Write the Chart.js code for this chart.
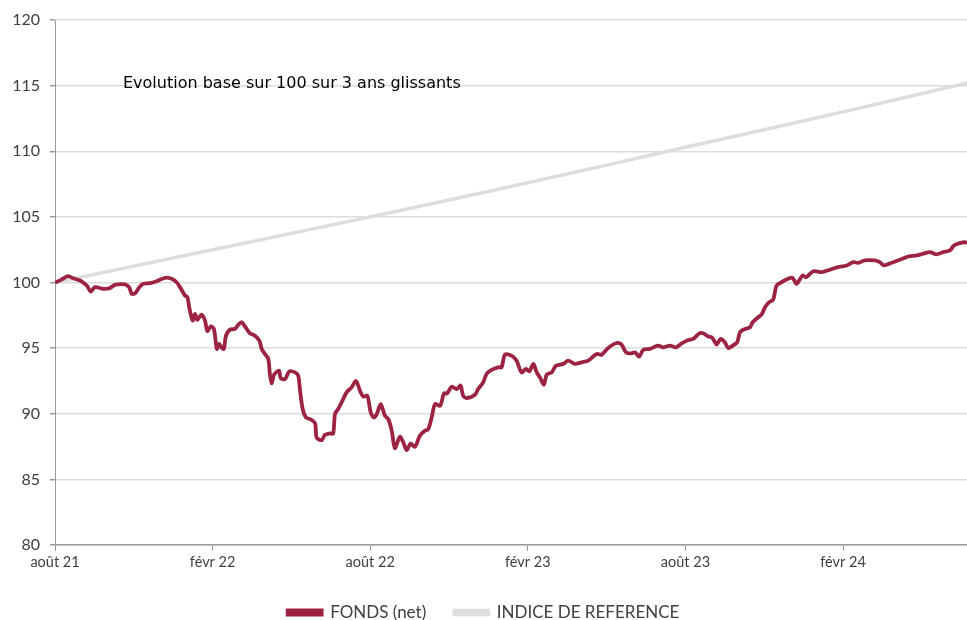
<!DOCTYPE html>
<html>
<head>
<meta charset="utf-8">
<script src="https://cdn.jsdelivr.net/npm/chart.js@4.4.1/dist/chart.umd.min.js"></script>
<style>
  html, body { margin: 0; padding: 0; background: #fff; }
  #wrap { width: 967px; height: 620px; position: relative; }
</style>
</head>
<body>
<div id="wrap"><canvas id="perf_chart"></canvas></div>
<script>
// mois écoulés depuis août 21
var fundMonths = [0, 0.23, 0.49, 0.72, 0.95, 1.21, 1.36, 1.52, 1.84, 2.09, 2.28, 2.66, 2.82, 2.92, 3.05, 3.21, 3.36, 3.62, 3.87, 4.19,
    4.44, 4.63, 4.76, 4.95, 5.04, 5.11, 5.24, 5.33, 5.42, 5.58, 5.71, 5.80, 5.93, 6.05, 6.16, 6.25, 6.35, 6.43, 6.51, 6.66,
    6.85, 6.98, 7.11, 7.23, 7.42, 7.61, 7.78, 7.87, 7.99, 8.12, 8.18, 8.25, 8.34, 8.53, 8.59, 8.76, 8.92, 9.14, 9.26, 9.33,
    9.43, 9.55, 9.71, 9.90, 9.96, 10.15, 10.28, 10.47, 10.59, 10.66, 10.78, 10.91, 11.10, 11.29, 11.46, 11.61, 11.74, 11.89, 12.02, 12.14,
    12.25, 12.40, 12.56, 12.69, 12.82, 12.94, 13.13, 13.26, 13.39, 13.54, 13.70, 13.89, 14.08, 14.21, 14.34, 14.47, 14.66, 14.81, 14.93, 15.10,
    15.29, 15.44, 15.54, 15.69, 15.99, 16.11, 16.30, 16.43, 16.62, 16.87, 17.00, 17.13, 17.38, 17.57, 17.76, 17.93, 18.06, 18.21, 18.34, 18.46,
    18.61, 18.72, 18.91, 19.07, 19.35, 19.54, 19.79, 20.05, 20.30, 20.62, 20.81, 21.06, 21.38, 21.57, 21.74, 21.95, 22.08, 22.24, 22.39, 22.65,
    22.96, 23.15, 23.41, 23.64, 23.86, 24.11, 24.30, 24.53, 24.68, 24.87, 25.00, 25.09, 25.19, 25.34, 25.50, 25.63, 25.80, 25.97, 26.08, 26.27,
    26.46, 26.56, 26.77, 26.90, 27.03, 27.19, 27.34, 27.47, 27.66, 27.91, 28.08, 28.23, 28.46, 28.59, 28.87, 29.19, 29.50, 29.82, 30.14, 30.39,
    30.58, 30.83, 31.21, 31.40, 31.56, 31.85, 32.17, 32.48, 32.80, 33.05, 33.31, 33.56, 33.81, 34.07, 34.22, 34.45, 34.64, 34.72];

var fundValues = [100.0, 100.2, 100.48, 100.3, 100.15, 99.77, 99.31, 99.64, 99.52, 99.57, 99.82, 99.85, 99.64, 99.14, 99.18, 99.64, 99.9, 99.95, 100.1, 100.36,
    100.28, 100.02, 99.64, 99.0, 98.88, 98.1, 97.1, 97.6, 97.15, 97.55, 97.1, 96.3, 96.66, 96.46, 94.94, 95.32, 95.01, 94.94, 95.95, 96.41,
    96.46, 96.79, 96.97, 96.66, 96.13, 95.95, 95.57, 94.94, 94.56, 94.18, 93.03, 92.31, 92.98, 93.28, 92.72, 92.65, 93.23, 93.15, 92.9, 91.76,
    90.36, 89.72, 89.59, 89.29, 88.19, 87.99, 88.4, 88.5, 88.5, 89.98, 90.36, 90.86, 91.63, 92.01, 92.5, 91.76, 91.3, 91.37, 90.1, 89.72,
    89.98, 90.74, 89.85, 89.59, 88.7, 87.38, 88.24, 87.81, 87.23, 87.73, 87.48, 88.32, 88.7, 88.83, 89.72, 90.74, 90.61, 91.55, 91.55, 92.06,
    91.88, 92.14, 91.37, 91.2, 91.45, 91.88, 92.39, 93.03, 93.34, 93.54, 93.54, 94.5, 94.43, 94.05, 93.15, 93.41, 93.23, 93.8, 93.15, 92.77,
    92.21, 92.98, 93.15, 93.66, 93.8, 94.05, 93.8, 93.92, 94.05, 94.56, 94.5, 95.01, 95.39, 95.27, 94.68, 94.6, 94.68, 94.35, 94.86, 94.94,
    95.19, 95.06, 95.19, 95.06, 95.37, 95.62, 95.7, 96.13, 96.13, 95.88, 95.83, 95.57, 95.27, 95.7, 95.45, 95.01, 95.19, 95.45, 96.21, 96.46,
    96.59, 96.97, 97.35, 97.56, 98.12, 98.5, 98.68, 99.77, 100.02, 100.28, 100.36, 99.9, 100.53, 100.4, 100.86, 100.79, 100.97, 101.17, 101.3, 101.55,
    101.5, 101.68, 101.68, 101.55, 101.3, 101.5, 101.73, 101.98, 102.06, 102.19, 102.31, 102.14, 102.31, 102.44, 102.82, 103.0, 103.08, 102.98];

var indexMonths = [0, 6, 12, 18, 24, 30, 34.72];
var indexValues = [100, 102.5, 105.0, 107.6, 110.3, 113.0, 115.2];

var tickMonths = [0, 6, 12, 18, 24, 30];
var tickLabels = ['août 21', 'févr 22', 'août 22', 'févr 23', 'août 23', 'févr 24'];

var seriesNames = ['FONDS (net)', 'INDICE DE REFERENCE'];
var seriesColors = ['#9c2442', '#dddddd'];

var chartTitle = 'Evolution base sur 100 sur 3 ans glissants';

function toPoints(xs, ys) {
    return xs.map(function (x, i) { return { x: x, y: ys[i] } })
}

// titre posé dans la zone du graphique
var titlePlugin = {
    id: 'innerTitle',
    afterDatasetsDraw: function (chart) {
        var ctx = chart.ctx, area = chart.chartArea;
        ctx.save();
        ctx.font = '16px "DejaVu Sans"';
        ctx.fillStyle = '#000';
        ctx.textBaseline = 'middle';
        ctx.fillText(chartTitle, area.left + 68, area.top + 64);
        ctx.restore();
    }
};

new Chart(document.getElementById('perf_chart').getContext('2d'), {
    type: 'line',
    data: {
        datasets: [
            {
                label: seriesNames[0],
                data: toPoints(fundMonths, fundValues),
                borderColor: seriesColors[0],
                backgroundColor: seriesColors[0],
                borderWidth: 3.8,
                pointRadius: 0,
                tension: 0.3
            },
            {
                label: seriesNames[1],
                data: toPoints(indexMonths, indexValues),
                borderColor: seriesColors[1],
                backgroundColor: seriesColors[1],
                borderWidth: 3.5,
                pointRadius: 0,
                tension: 0.4
            }
        ]
    },
    options: {
        responsive: true,
        maintainAspectRatio: false,
        animation: false,
        layout: { padding: { top: 20, right: 0, left: 0, bottom: -11 } },
        scales: {
            x: {
                type: 'linear',
                min: 0,
                max: 34.72,
                afterBuildTicks: function (scale) {
                    scale.ticks = tickMonths.map(function (m) { return { value: m } })
                },
                afterFit: function (scale) { scale.height = 57 },
                border: { display: true, color: '#9a9a9a', width: 1.5 },
                grid: { drawOnChartArea: false, tickLength: 6, tickColor: '#9a9a9a' },
                ticks: {
                    autoSkip: false,
                    maxRotation: 0,
                    padding: 3,
                    color: '#404040',
                    font: { family: 'Lato', size: 14.5 },
                    callback: function (v) {
                        var i = tickMonths.indexOf(v);
                        return i >= 0 ? tickLabels[i] : ''
                    }
                }
            },
            y: {
                min: 80,
                max: 120,
                afterFit: function (scale) { scale.width = 55 },
                border: { display: true, color: '#9a9a9a', width: 1 },
                grid: { color: '#dcdcdc', lineWidth: 1.5, tickLength: 5, tickColor: '#9a9a9a' },
                ticks: { stepSize: 5, padding: 10, color: '#404040', font: { family: 'Lato', size: 16 } }
            }
        },
        plugins: {
            legend: {
                position: 'bottom',
                labels: {
                    boxWidth: 34,
                    boxHeight: 4,
                    padding: 2,
                    color: '#404040',
                    font: { family: 'Lato', size: 17 },
                    generateLabels: function (chart) {
                        // espace entre les deux entrées
                        var items = Chart.defaults.plugins.legend.labels.generateLabels(chart);
                        items.forEach(function (it, i) { if (i === 0) it.text = it.text + '      ' });
                        return items
                    }
                }
            },
            tooltip: { enabled: false }
        }
    },
    plugins: [titlePlugin]
});
</script>
</body>
</html>
